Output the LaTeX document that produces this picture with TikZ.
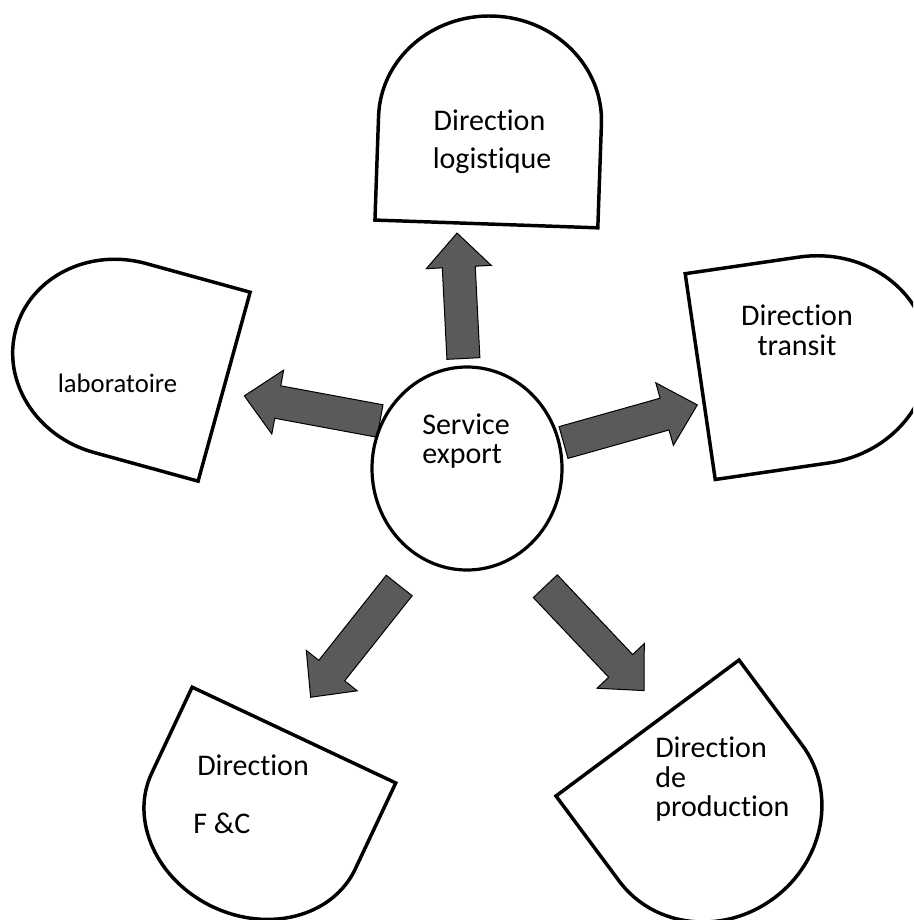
\documentclass[tikz,border=0pt]{standalone}
\usepackage{fontspec}
\setmainfont{Carlito}[Ligatures={NoCommon,NoRequired,NoContextual}]
\usetikzlibrary{shapes.geometric}
\definecolor{arrowgray}{HTML}{5A5A5A}
\tikzset{
  dshape/.style={draw=black, line width=2.6pt, line join=miter, fill=white},
  lbl/.style={inner sep=0pt, font=\fontsize{22.5}{27}\selectfont},
  lblsmall/.style={inner sep=0pt, font=\fontsize{20}{24}\selectfont},
  arrowbody/.style={draw=black, line width=0.75pt, fill=arrowgray, line join=miter},
  pics/blockarrow/.style={code={
    \path[arrowbody] (0,-16.5) -- (#1-34,-16.5) -- (#1-34,-32.5) -- (#1,0)
      -- (#1-34,32.5) -- (#1-34,16.5) -- (0,16.5) -- cycle;
  }},
  pics/delayshape/.style args={#1/#2}{code={
    \path[dshape] (0,#2/2) -- (-#1/2,#2/2) -- (-#1/2,-#2/2) -- (0,-#2/2)
      arc[start angle=-90, end angle=90, x radius=#1/2, y radius=#2/2] -- cycle;
  }}
}
\begin{document}
\begin{tikzpicture}[x=0.75pt, y=-0.75pt]
\clip (0,0) rectangle (913,920);
\fill[white] (0,0) rectangle (913,920);

% D-shapes (centre, direction of the rounded end, length/width)
\pic[rotate=88]    at (490,120)     {delayshape=208/223};
\pic[rotate=164.6] at (120,358)     {delayshape=216/196};
\pic[rotate=8.3]   at (814,360)     {delayshape=230/208};
\pic[rotate=244.8] at (253.5,821)   {delayshape=190/225};
\pic[rotate=-53.4] at (710.7,813.1) {delayshape=212/228};

% block arrows
\pic[rotate=92.9]  at (463.4,358.5) {blockarrow=125.6};
\pic[rotate=169.5] at (380,421)     {blockarrow=138};
\pic[rotate=15.7]  at (563.5,442.5) {blockarrow=139};
\pic[rotate=231.6] at (399.2,585.5) {blockarrow=142.6};
\pic[rotate=-46.6] at (545.3,586.2) {blockarrow=143.7};

% centre
\node[ellipse, draw=black, line width=2.4pt, fill=white, inner sep=0pt,
      minimum width=142.5pt, minimum height=152.25pt] (se) at (467,468.5) {};

% labels
\node[lbl, anchor=base] (t1a) at (489.5,131) {Direction};
\node[lbl, anchor=base] (t1b) at (492,168) {logistique};
\node[lblsmall, anchor=base] (t2) at (117.5,392) {laboratoire};
\node[lbl, anchor=base] (t3a) at (797,325) {Direction};
\node[lbl, anchor=base] (t3b) at (797,355) {transit};
\node[lbl, anchor=base west] (t4a) at (197,775) {Direction};
\node[lbl, anchor=base west] (t4b) at (193,833) {F \&C};
\node[lbl, anchor=base west] (t5a) at (655,757) {Direction};
\node[lbl, anchor=base west] (t5b) at (655,787) {de};
\node[lbl, anchor=base west] (t5c) at (655,816) {production};
\node[lbl, anchor=base west] (t6a) at (422,434) {Service};
\node[lbl, anchor=base west] (t6b) at (422,463) {export};
\end{tikzpicture}
\end{document}
